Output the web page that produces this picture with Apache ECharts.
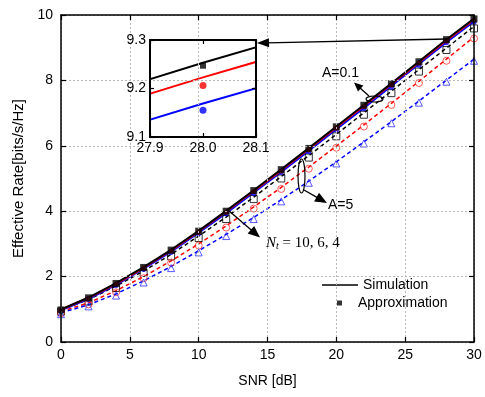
<!DOCTYPE html>
<html><head><meta charset="utf-8">
<script src="https://cdn.jsdelivr.net/npm/echarts@6/dist/echarts.min.js"></script>
<style>html,body{margin:0;padding:0;background:#fff}#c{width:485px;height:397px}</style>
</head><body><div id="c"></div>
<script>
// ---- data ----
const snr = [0,2,4,6,8,10,12,14,16,18,20,22,24,26,28,30];
// A = 0.1, simulation (solid)
const simA01_Nt10 = [1.00,1.36,1.80,2.29,2.82,3.40,4.01,4.64,5.28,5.93,6.59,7.25,7.91,8.58,9.253,9.89];
const simA01_Nt6  = [0.99,1.35,1.78,2.27,2.80,3.38,3.99,4.62,5.25,5.90,6.56,7.22,7.88,8.55,9.223,9.86];
const simA01_Nt4  = [0.97,1.32,1.75,2.24,2.76,3.34,3.94,4.57,5.20,5.85,6.51,7.16,7.83,8.50,9.169,9.80];
// A = 0.1, approximation (filled markers)
const apxA01_Nt10 = [0.98,1.35,1.79,2.28,2.81,3.39,4.00,4.63,5.27,5.92,6.58,7.24,7.90,8.57,9.247,9.88];
const apxA01_Nt6  = [0.97,1.33,1.77,2.26,2.78,3.36,3.97,4.60,5.23,5.88,6.54,7.20,7.86,8.53,9.206,9.85];
const apxA01_Nt4  = [0.95,1.30,1.73,2.22,2.74,3.31,3.92,4.54,5.18,5.82,6.48,7.13,7.79,8.46,9.155,9.78];
// A = 5, simulation (dashed)
const simA5_Nt10 = [0.98,1.30,1.71,2.17,2.68,3.24,3.82,4.43,5.06,5.70,6.35,7.01,7.67,8.33,8.99,9.65];
const simA5_Nt6  = [0.93,1.20,1.57,2.00,2.48,3.00,3.55,4.13,4.73,5.35,5.99,6.64,7.30,7.97,8.65,9.33];
const simA5_Nt4  = [0.89,1.14,1.47,1.87,2.31,2.79,3.29,3.81,4.35,4.92,5.51,6.12,6.74,7.37,8.01,8.65];
// A = 5, approximation (open markers)
const apxA5_Nt10 = [0.93,1.24,1.65,2.11,2.62,3.18,3.76,4.37,5.00,5.64,6.29,6.95,7.61,8.27,8.93,9.59];
const apxA5_Nt6  = [0.88,1.15,1.52,1.95,2.43,2.95,3.50,4.08,4.68,5.30,5.94,6.59,7.25,7.92,8.60,9.28];
const apxA5_Nt4  = [0.85,1.09,1.42,1.82,2.26,2.74,3.24,3.76,4.30,4.87,5.46,6.07,6.69,7.32,7.96,8.60];
// axis ticks
const xTicks = {min:0, max:30, interval:5};
const yTicks = {min:0, max:10, interval:2};
const insetX = {min:27.9, max:28.1, interval:0.1};
const insetY = {min:9.1, max:9.3, interval:0.1};

const pair = arr => snr.map((s,i)=>[s,arr[i]]);
const FONT = '"Liberation Sans", Arial, sans-serif';

function axis(gi, pos, rng, opts){
  return Object.assign({
    type:'value', gridIndex:gi, position:pos,
    min:rng.min, max:rng.max, interval:rng.interval,
    axisLine:{show:true, onZero:false, lineStyle:{color:'#000', width:opts.lw||1.5}},
    axisTick:{show:true, inside:true, length:opts.tl||5, lineStyle:{color:'#000', width:1.2}},
    axisLabel:{show:!!opts.label, color:'#000', fontSize:14, fontFamily:FONT, margin:opts.margin||8,
      formatter: opts.fmt},
    splitLine:{show:!!opts.split, lineStyle:{color:'#b8b8b8', type:[2,2], width:1}},
    z: 5
  }, opts.extra||{});
}

const xAxes = [
  axis(0,'bottom',xTicks,{label:true, split:true, margin:6, extra:{
    name:'SNR [dB]', nameLocation:'middle', nameGap:32,
    nameTextStyle:{color:'#000', fontSize:14, fontFamily:FONT}}}),
  axis(0,'top',xTicks,{}),
  axis(1,'bottom',insetX,{label:true, margin:4, lw:2, tl:4, fmt:v=>v.toFixed(1)}),
  axis(1,'top',insetX,{lw:2, tl:4})
];
const yAxes = [
  axis(0,'left',yTicks,{label:true, split:true, margin:8, extra:{
    name:'Effective Rate[bits/s/Hz]', nameLocation:'middle', nameGap:34,
    nameTextStyle:{color:'#000', fontSize:15, fontFamily:FONT}}}),
  axis(0,'right',yTicks,{}),
  axis(1,'left',insetY,{label:true, margin:4, lw:2, tl:4, fmt:v=>v.toFixed(1)}),
  axis(1,'right',insetY,{lw:2, tl:4})
];

function lineS(name, data, color, dashed, xi, yi, width){
  return {type:'line', name, data:pair(data), xAxisIndex:xi, yAxisIndex:yi, symbol:'none',
    lineStyle:{color, width:width, type: dashed?[4,3]:'solid'}, itemStyle:{color},
    silent:true, clip:true, z:2};
}
function markS(name, data, color, symbol, size, filled, xi, yi){
  return {type:'scatter', name, data:pair(data), xAxisIndex:xi, yAxisIndex:yi, symbol, symbolSize:size,
    itemStyle: filled ? {color} : {color:'rgba(255,255,255,0)', borderColor:color, borderWidth:1},
    silent:true, clip:true, z:3};
}

const series = [
  lineS('a5n10', simA5_Nt10, '#000', true, 0,0,1.5),
  lineS('a5n6',  simA5_Nt6,  '#ff0000', true, 0,0,1.5),
  lineS('a5n4',  simA5_Nt4,  '#0000ff', true, 0,0,1.5),
  markS('m5n10', apxA5_Nt10, '#000', 'rect', 7, false, 0,0),
  markS('m5n6',  apxA5_Nt6,  '#ff3030', 'circle', 7, false, 0,0),
  markS('m5n4',  apxA5_Nt4,  '#3030ff', 'triangle', 7, false, 0,0),
  lineS('a01n4', simA01_Nt4, '#0000ff', false, 0,0,2),
  lineS('a01n6', simA01_Nt6, '#ff0000', false, 0,0,2),
  lineS('Simulation', simA01_Nt10, '#000', false, 0,0,2),
  markS('m01n4', apxA01_Nt4, '#0000ff', 'circle', 5, true, 0,0),
  markS('m01n6', apxA01_Nt6, '#ff0000', 'circle', 5, true, 0,0),
  markS('Approximation', apxA01_Nt10, '#000', 'rect', 7, true, 0,0),
  lineS('i01n4', simA01_Nt4, '#0000ff', false, 2,2,2),
  lineS('i01n6', simA01_Nt6, '#ff0000', false, 2,2,2),
  lineS('i01n10', simA01_Nt10, '#000', false, 2,2,2),
  markS('im01n4', apxA01_Nt4, '#0000ff', 'circle', 7, true, 2,2),
  markS('im01n6', apxA01_Nt6, '#ff0000', 'circle', 7, true, 2,2),
  markS('im01n10', apxA01_Nt10, '#000', 'rect', 6, true, 2,2)
];

function arrow(x1,y1,x2,y2,len,hw){
  const dx=x2-x1, dy=y2-y1, L=Math.hypot(dx,dy), ux=dx/L, uy=dy/L;
  const bx=x2-ux*len, by=y2-uy*len;
  return [
    {type:'line', z:100, shape:{x1,y1,x2:bx+ux*2,y2:by+uy*2}, style:{stroke:'#000', lineWidth:1.3}},
    {type:'polygon', z:100, shape:{points:[[x2,y2],[bx-uy*hw,by+ux*hw],[bx+uy*hw,by-ux*hw]]}, style:{fill:'#000'}}
  ];
}
const SERIF = '"Liberation Serif", "Times New Roman", serif';
const graphics = [].concat(
  arrow(447,39,257,43,12,4.5),
  arrow(369,96,354,82.5,9,4),
  arrow(304,190,327,203,12,5),
  arrow(228,210,260,237.5,12,5),
  [
    {type:'ellipse', z:100, shape:{cx:374.5, cy:99, rx:8.5, ry:3}, style:{fill:'none', stroke:'#000', lineWidth:1.2}},
    {type:'ellipse', z:100, shape:{cx:301.5, cy:176, rx:3.5, ry:17}, style:{fill:'none', stroke:'#000', lineWidth:1.2}},
    {type:'text', z:100, x:322, y:73, style:{text:'A=0.1', fontSize:14, fontFamily:FONT, fill:'#000', verticalAlign:'middle'}},
    {type:'text', z:100, x:328, y:205.5, style:{text:'A=5', fontSize:14, fontFamily:FONT, fill:'#000', verticalAlign:'middle'}},
    {type:'text', z:100, x:266, y:243, style:{
      text:'{n|N}{t|t}{r| = 10, 6, 4}', verticalAlign:'middle', fill:'#000',
      rich:{
        n:{fontSize:15, fontStyle:'italic', fontFamily:SERIF, fill:'#000'},
        t:{fontSize:10, fontStyle:'italic', fontFamily:SERIF, fill:'#000', padding:[6,0,0,0]},
        r:{fontSize:15, fontFamily:SERIF, fill:'#000'}
      }}}
  ]
);

const legendText = {color:'#000', fontSize:14, fontFamily:FONT};
const chart = echarts.init(document.getElementById('c'), null, {renderer:'canvas'});
chart.setOption({
  animation:false,
  backgroundColor:'#fff',
  grid:[
    {left:61, right:11, top:15, bottom:55},
    {left:150, top:40, width:106, height:97}
  ],
  legend:[
    {left:317, top:273, itemWidth:36, itemHeight:1.5, icon:'rect', selectedMode:false,
     textStyle:legendText, data:['Simulation']},
    {left:332, top:291, itemWidth:5, itemHeight:5, icon:'rect', selectedMode:false,
     textStyle:Object.assign({padding:[0,0,0,11]}, legendText), data:['Approximation']}
  ],
  xAxis:xAxes, yAxis:yAxes,
  series, graphic:graphics
});
</script></body></html>
